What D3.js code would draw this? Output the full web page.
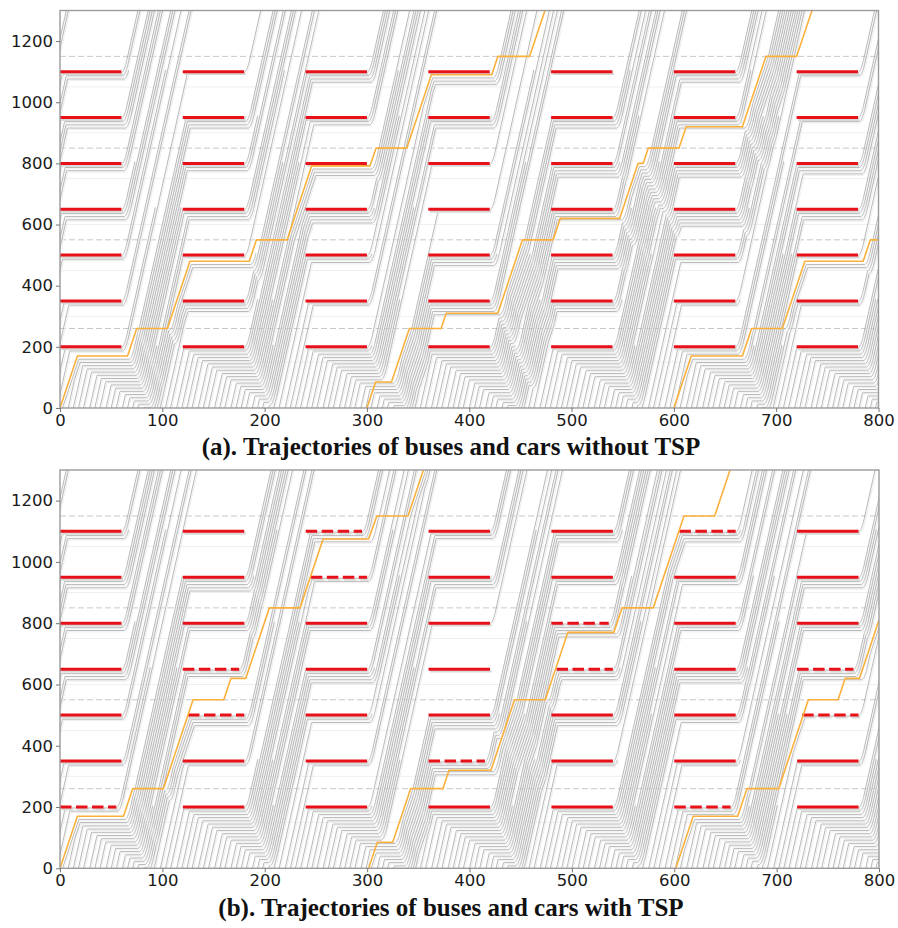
<!DOCTYPE html>
<html>
<head>
<meta charset="utf-8">
<script src="https://cdn.jsdelivr.net/npm/d3@7/dist/d3.min.js"></script>
<style>
  html, body { margin: 0; padding: 0; background: #ffffff; }
  svg { display: block; }
</style>
</head>
<body>
<svg id="chart" width="898" height="928"></svg>
<script>
// ---- axis ticks ----
const xTicks = [0, 100, 200, 300, 400, 500, 600, 700, 800];
const yTicks = [0, 200, 400, 600, 800, 1000, 1200];

// ---- corridor layout (metres) ----
const signalPositions = [200, 350, 500, 650, 800, 950, 1100];
const redStarts = [0, 120, 240, 360, 480, 600, 720];
const redDuration = 60;
const cycleLength = 120;
const busStops = [260, 550, 850, 1150];
const detectorLines = [150, 300, 450, 600, 750, 900, 1050];

// ---- transit signal priority: adjusted red phases (panel b) ----
const tspPos   = [200, 650, 500, 1100, 950, 350, 800, 650, 1100, 200, 650, 500];
const tspStart = [0,   120, 125, 240,  245, 360, 480, 485, 605,  600, 720, 725];
const tspEnd   = [55,  175, 180, 295,  300, 415, 536, 540, 660,  655, 775, 780];

// ---- bus trajectories [time s, position m] ----
const busesNoTsp = [
  [[0,0],[17,170],[66,170],[75,260],[105,260],[127,480],[185,480],[192,550],[222,550],[246,792],[303,792],[309,850],[339,850],[363,1090],[422,1090],[428,1150],[459,1150],[474,1300]],
  [[300,0],[308.5,85],[324,85],[341.5,260],[372.5,260],[377.5,310],[428,310],[452,550],[482,550],[489,620],[547,620],[565,800],[570,800],[575,850],[605,850],[612,920],[667,920],[690,1150],[720,1150],[735,1300]],
  [[600,0],[617,170],[667,170],[676,260],[706,260],[728,480],[785,480],[792,550],[800,550]]
];
const busesTsp = [
  [[0,0],[17,170],[62,170],[71,260],[101,260],[130,550],[160,550],[167,620],[181.5,620],[204.5,850],[234.5,850],[257,1075],[301.5,1075],[309.5,1150],[340,1150],[355,1300]],
  [[301.5,0],[310,85],[325,85],[342.5,260],[374,260],[380,320],[421,320],[444,550],[474,550],[496,770],[541,770],[549,850],[579.5,850],[609.5,1150],[639.5,1150],[654.5,1300]],
  [[601.5,0],[618.5,170],[662,170],[671,260],[702,260],[731,550],[760,550],[767,620],[781,620],[800,810]]
];

// ---- cars: arrival time at the upstream end (s) ----
const carEntryTimes = [
  -300,-295,-289,-284,-279,-273,-268,-263,-257,-252,-247,
  -242,-236,-231,-226,-220,-215,-210,-204,-199,-194,
  -189,-183,-178,-173,-167,-162,-157,-151,-146,-141,
  -136,-130,-125,-120,-114,-109,-104,-98,-93,-88,
  -83,-77,-72,-67,-61,-56,-51,-45,-40,-35,
  -30,-24,-19,-14,-8,-3,2,8,13,18,
  23,29,34,39,45,50,55,61,66,71,
  76,82,87,92,98,103,108,114,119,124,
  129,135,140,145,151,156,161,167,172,177,
  182,188,193,198,204,209,214,220,225,230,
  235,241,246,251,257,262,267,273,278,283,
  288,294,299,304,310,315,320,326,331,336,
  341,347,352,357,363,368,373,379,384,389,
  394,400,405,410,416,421,426,432,437,442,
  447,453,458,463,469,474,479,485,490,495,
  500,506,511,516,522,527,532,538,543,548,
  553,559,564,569,575,580,585,591,596,601,
  606,612,617,622,628,633,638,644,649,654,
  659,665,670,675,681,686,691,697,702,707,
  712,718,723,728,734,739,744,750,755,760,
  765,771,776,781,787,792,797
];
// index of the intersection where each car turns off (7 = drives through)
const carExitSignal = [
  7,7,2,7,5,7,7,0,7,3,7,7,6,7,1,7,7,4,7,7,
  7,3,7,7,0,7,5,7,7,2,7,7,7,4,7,6,7,1,7,7,
  7,7,1,7,7,4,7,2,7,7,6,7,0,7,7,3,7,5,7,7,
  7,5,7,7,3,7,7,0,7,6,7,2,7,7,4,7,7,1,7,7,
  7,7,4,7,1,7,7,6,7,0,7,7,3,7,5,7,2,7,7,7,
  7,0,7,7,5,7,3,7,7,1,7,7,6,7,2,7,7,4,7,7,
  7,7,6,7,2,7,7,4,7,7,0,7,5,7,7,1,7,3,7,7,
  7,4,7,7,1,7,6,7,7,3,7,7,2,7,0,7,7,5,7,7,
  7,7,3,7,7,5,7,1,7,7,4,7,7,0,7,6,7,2,7,7,
  7,2,7,7,6,7,0,7,7,4,7,7,1,7,3,7,5,7,7,7,
  7,7,5,7,1,7,7,3
];

// ---- car-following parameters ----
const FREE_SPEED = 15;    // m/s
const ACCEL = 2.6;        // m/s^2
const JAM_GAP = 10.5;     // m between stopped vehicles
const REACTION = 1.4;     // s
const STOP_OFFSET = 3;    // m before stop line

function buildRedTable(useTsp) {
  const table = new Map();
  signalPositions.forEach(S => {
    const rows = [];
    for (let c = -4; c <= 8; c++) {
      const cs = c * cycleLength;
      let iv = [cs, cs + redDuration], tsp = false;
      if (useTsp) {
        tspPos.forEach((p, i) => {
          if (p === S && tspStart[i] >= cs && tspStart[i] < cs + cycleLength) {
            iv = [tspStart[i], tspEnd[i]]; tsp = true;
          }
        });
      }
      rows.push({ c, start: iv[0], end: iv[1], tsp });
    }
    table.set(S, rows);
  });
  return table;
}

function isRed(table, S, t) {
  const c = Math.floor(t / cycleLength);
  const row = table.get(S)[c + 4];
  return row && t >= row.start && t < row.end;
}

function busAt(path, t) {
  if (t < path[0][0] || t > path[path.length - 1][0]) return null;
  for (let i = 0; i < path.length - 1; i++) {
    const a = path[i], b = path[i + 1];
    if (t >= a[0] && t <= b[0]) {
      const f = b[0] === a[0] ? 0 : (t - a[0]) / (b[0] - a[0]);
      const y = a[1] + f * (b[1] - a[1]);
      const dwell = a[1] === b[1] && busStops.includes(a[1]);
      return { y, dwell };
    }
  }
  return null;
}

function simulate(table, buses) {
  const dt = 0.2, T0 = -330, T1 = 805;
  const N = Math.round((T1 - T0) / dt) + 1;
  const lag = Math.round(REACTION / dt);
  const cars = carEntryTimes.map((te, i) => ({
    te,
    exitPos: carExitSignal[i] < signalPositions.length ? signalPositions[carExitSignal[i]] + 4 : 1400,
    spawn: Math.max(0, Math.round((te - 25 - T0) / dt)),
    gone: false,
    v: FREE_SPEED,
    x: new Float32Array(N).fill(NaN)
  }));
  for (let k = 0; k < N - 1; k++) {
    const t1 = T0 + (k + 1) * dt;
    for (let n = 0; n < cars.length; n++) {
      const car = cars[n];
      if (k + 1 < car.spawn || car.gone) continue;
      if (k + 1 === car.spawn) { car.x[k + 1] = FREE_SPEED * (t1 - car.te); continue; }
      const prev = car.x[k];
      const vWant = Math.min(FREE_SPEED, car.v + ACCEL * dt);
      let cand = prev + vWant * dt;
      // nearest car ahead that is still on the corridor
      if (k + 1 - lag >= 0) {
        for (let m = n - 1; m >= 0; m--) {
          const lx = cars[m].x[k + 1 - lag];
          if (!isNaN(lx)) { cand = Math.min(cand, lx - JAM_GAP); break; }
          if (k + 1 - lag >= cars[m].spawn && cars[m].gone) continue;
          break;
        }
      }
      buses.forEach(path => {
        const b = busAt(path, t1 - REACTION);
        if (b && !b.dwell && b.y > prev + 0.01) cand = Math.min(cand, b.y - JAM_GAP);
      });
      for (const S of signalPositions) {
        const line = S - STOP_OFFSET;
        if (prev <= line + 1e-6) {
          if (cand > line && isRed(table, S, t1)) cand = line;
          break;
        }
      }
      cand = Math.max(cand, prev);
      car.v = (cand - prev) / dt;
      car.x[k + 1] = cand;
      if (cand > car.exitPos) car.gone = true;
    }
  }
  // keep the breakpoints of each trajectory inside the plotted window
  return cars.map(car => {
    const pts = [];
    for (let k = 0; k < N; k++) {
      const t = T0 + k * dt, x = car.x[k];
      if (isNaN(x) || t < -1 || t > 801) continue;
      pts.push([t, x]);
      if (x > 1320) break;
    }
    const out = [];
    for (let i = 0; i < pts.length; i++) {
      if (i === 0 || i === pts.length - 1) { out.push(pts[i]); continue; }
      const d1 = pts[i][1] - pts[i - 1][1], d2 = pts[i + 1][1] - pts[i][1];
      if (Math.abs(d1 - d2) > 1e-3) out.push(pts[i]);
    }
    return out.filter((p, i, a) => !(p[1] < -30 && a[i + 1] && a[i + 1][1] < -30));
  }).filter(p => p.length > 1);
}

const svg = d3.select('#chart');

function drawPanel(opts) {
  const { top, bottom, left, right, useTsp, buses, caption, captionY, id } = opts;
  const x = d3.scaleLinear().domain([0, 800]).range([left, right]);
  const y = d3.scaleLinear().domain([0, 1300]).range([bottom, top]);
  const g = svg.append('g');

  g.append('clipPath').attr('id', id).append('rect')
    .attr('x', left).attr('y', top).attr('width', right - left).attr('height', bottom - top);
  const plot = g.append('g').attr('clip-path', `url(#${id})`);

  // faint detector lines
  plot.selectAll('.det').data(detectorLines).enter().append('line')
    .attr('x1', left).attr('x2', right)
    .attr('y1', d => y(d)).attr('y2', d => y(d))
    .attr('stroke', '#efefef').attr('stroke-width', 1);

  // bus stops
  plot.selectAll('.stop').data(busStops).enter().append('line')
    .attr('x1', left).attr('x2', right)
    .attr('y1', d => y(d)).attr('y2', d => y(d))
    .attr('stroke', '#c8c8c8').attr('stroke-width', 1)
    .attr('stroke-dasharray', '6,3');

  const table = buildRedTable(useTsp);
  const carPaths = simulate(table, buses);
  const line = d3.line().x(d => x(d[0])).y(d => y(d[1]));

  plot.append('g').attr('transform', 'translate(1.2,1.4)')
    .selectAll('path').data(carPaths).enter().append('path')
    .attr('d', line).attr('fill', 'none')
    .attr('stroke', '#eeeeee').attr('stroke-width', 1);
  plot.append('g').selectAll('path').data(carPaths).enter().append('path')
    .attr('d', line).attr('fill', 'none')
    .attr('stroke', '#ababab').attr('stroke-width', 0.85);

  // red phases
  const bars = [];
  signalPositions.forEach(S => {
    table.get(S).forEach(r => {
      if (r.c >= 0 && r.c <= 6) bars.push({ S, start: r.start, end: r.end, tsp: r.tsp });
    });
  });
  plot.append('g').attr('transform', 'translate(1.5,2.2)')
    .selectAll('line').data(bars).enter().append('line')
    .attr('x1', d => x(d.start)).attr('x2', d => x(d.end))
    .attr('y1', d => y(d.S)).attr('y2', d => y(d.S))
    .attr('stroke', '#d8d8d8').attr('stroke-width', 2.4)
    .attr('stroke-dasharray', d => d.tsp ? '11.5,4.5' : null);
  plot.append('g').selectAll('line').data(bars).enter().append('line')
    .attr('x1', d => x(d.start)).attr('x2', d => x(d.end))
    .attr('y1', d => y(d.S)).attr('y2', d => y(d.S))
    .attr('stroke', '#e8111a').attr('stroke-width', 3)
    .attr('stroke-dasharray', d => d.tsp ? '11.5,4.5' : null);

  // buses
  plot.append('g').selectAll('path').data(buses).enter().append('path')
    .attr('d', line).attr('fill', 'none')
    .attr('stroke', '#fbb03b').attr('stroke-width', 1.6)
    .attr('stroke-linejoin', 'round');

  // frame
  g.append('rect').attr('x', left).attr('y', top)
    .attr('width', right - left).attr('height', bottom - top)
    .attr('fill', 'none').attr('stroke', '#9b9b9b').attr('stroke-width', 1.4);

  // axes
  const xa = g.append('g').attr('transform', `translate(0,${bottom})`)
    .call(d3.axisBottom(x).tickValues(xTicks).tickSize(4).tickPadding(2).tickFormat(d3.format('d')));
  const ya = g.append('g').attr('transform', `translate(${left},0)`)
    .call(d3.axisLeft(y).tickValues(yTicks).tickSize(4).tickPadding(3).tickFormat(d3.format('d')));
  [xa, ya].forEach(a => {
    a.select('.domain').remove();
    a.selectAll('line').attr('stroke', '#777');
    a.selectAll('text').attr('fill', '#1a1a1a')
      .style('font-family', '"DejaVu Sans", sans-serif').style('font-size', '16.5px');
  });

  svg.append('text').attr('x', 451).attr('y', captionY)
    .attr('text-anchor', 'middle')
    .style('font-family', '"Liberation Serif", "Times New Roman", serif')
    .style('font-weight', 'bold').style('font-size', '25px')
    .attr('fill', '#111').text(caption);
}

drawPanel({ id: 'clipA', top: 10.5, bottom: 408, left: 60, right: 878.5, useTsp: false,
  buses: busesNoTsp, caption: '(a). Trajectories of buses and cars without TSP', captionY: 455 });
drawPanel({ id: 'clipB', top: 470, bottom: 868.3, left: 60, right: 879, useTsp: true,
  buses: busesTsp, caption: '(b). Trajectories of buses and cars with TSP', captionY: 916 });
</script>
</body>
</html>
